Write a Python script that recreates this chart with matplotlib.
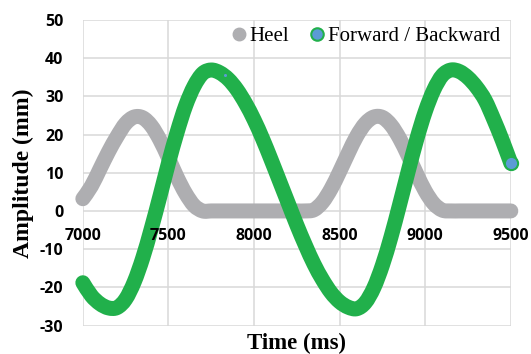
import numpy as np
import matplotlib
matplotlib.use("Agg")
import matplotlib.pyplot as plt
from matplotlib.path import Path
from matplotlib.patches import PathPatch

# Time axis (ms), sampled every 50 ms
time_ms = [7000, 7050, 7100, 7150, 7200, 7250, 7300, 7350, 7400, 7450,
           7500, 7550, 7600, 7650, 7700, 7750, 7800, 7850, 7900, 7950,
           8000, 8050, 8100, 8150, 8200, 8250, 8300, 8350, 8400, 8450,
           8500, 8550, 8600, 8650, 8700, 8750, 8800, 8850, 8900, 8950,
           9000, 9050, 9100, 9150, 9200, 9250, 9300, 9350, 9400, 9450,
           9500]

heel = [3.2, 6.5, 11.0, 15.5, 19.5, 22.9, 24.6, 24.4, 22.3, 18.6,
        13.9, 8.9, 4.6, 1.4, 0.0, 0.0, 0.0, 0.0, 0.0, 0.0,
        0.0, 0.0, 0.0, 0.0, 0.0, 0.0, 0.0, 0.3, 2.3, 5.8,
        10.3, 15.1, 19.6, 22.9, 24.6, 24.5, 22.5, 19.0, 14.5, 9.7,
        5.2, 1.9, 0.2, 0.0, 0.0, 0.0, 0.0, 0.0, 0.0, 0.0,
        0.0]

forward_backward = [-18.8, -22.2, -24.3, -25.4, -25.3, -23.1, -18.6, -12.3, -4.6, 3.8,
                    12.5, 20.5, 27.5, 32.7, 36.0, 36.9, 36.2, 34.5, 31.8, 28.2,
                    23.9, 18.9, 13.4, 7.7, 2.0, -3.7, -9.0, -13.9, -18.0, -21.4,
                    -23.8, -25.2, -25.6, -24.0, -20.1, -14.2, -6.8, 1.6, 10.3, 18.7,
                    26.0, 31.7, 35.5, 36.9, 36.5, 34.9, 32.4, 29.0, 24.0, 18.5,
                    12.5]

x_ticks = [7000, 7500, 8000, 8500, 9000, 9500]
y_ticks = [-30, -20, -10, 0, 10, 20, 30, 40, 50]

GRAY = '#AEAEB1'
GREEN = '#21B04B'
BLUE = '#5B9BD5'
GRID = '#D9D9D9'


def smooth_path(xs, ys):
    # Catmull-Rom through the points, as cubic Bezier segments
    p = np.column_stack([xs, ys]).astype(float)
    ext = np.vstack([p[0], p, p[-1]])
    verts = [p[0]]
    codes = [Path.MOVETO]
    for i in range(1, len(ext) - 2):
        p0, p1, p2, p3 = ext[i - 1], ext[i], ext[i + 1], ext[i + 2]
        verts += [p1 + (p2 - p0) / 6, p2 - (p3 - p1) / 6, p2]
        codes += [Path.CURVE4] * 3
    return Path(verts, codes)


fig = plt.figure(figsize=(5.31, 3.54), dpi=100)
ax = fig.add_axes([0.156, 0.0805, 0.806, 0.863])

for ys, col, z in [(heel, GRAY, 3), (forward_backward, GREEN, 4)]:
    patch = PathPatch(smooth_path(time_ms, ys), fill=False, edgecolor=col,
                      lw=10.8, capstyle='round', joinstyle='round',
                      clip_on=False, zorder=z)
    ax.add_patch(patch)

# last marker shows its blue fill
ax.plot(time_ms[-1], forward_backward[-1], 'o', ms=9.5, mfc=BLUE, mec=GREEN,
        mew=1.5, clip_on=False, zorder=5)
# one stray marker fill visible near the first peak
ax.plot(time_ms[17] - 20, forward_backward[17] + 1.0, 'o', ms=2.2, mfc=BLUE,
        mec='none', zorder=5)

ax.set_xlim(7000, 9500)
ax.set_ylim(-30, 50)
ax.set_xticks(x_ticks)
ax.set_yticks(y_ticks)
ax.grid(True, color=GRID, lw=1.1)
ax.set_axisbelow(True)
for s in ax.spines.values():
    s.set_visible(False)

ax.tick_params(length=0)
ax.set_xticklabels([])
ax.set_yticklabels([str(v) for v in y_ticks], fontfamily='Open Sans',
                   fontweight='bold', fontsize=11.5)
ax.tick_params(axis='y', pad=14)

for t in x_ticks:
    ax.annotate(str(t), xy=(t, 0), xytext=(0, -12.5), textcoords='offset points',
                ha='center', va='top', fontfamily='Open Sans', fontweight='bold',
                fontsize=11.5, zorder=6, annotation_clip=False)

ax.set_xlabel('Time (ms)', fontfamily='Liberation Serif', fontweight='bold',
              fontsize=16.5, labelpad=2)
ax.set_ylabel('Amplitude (mm)', fontfamily='Liberation Serif', fontweight='bold',
              fontsize=17, labelpad=4)

h1 = plt.Line2D([], [], ls='none', marker='o', ms=9, mfc=GRAY, mec=GRAY)
h2 = plt.Line2D([], [], ls='none', marker='o', ms=9, mfc=BLUE, mec=GREEN, mew=1.5)
ax.legend([h1, h2], ['Heel', 'Forward / Backward'], loc='upper right',
          bbox_to_anchor=(1.004, 1.02), ncol=2, frameon=False,
          prop={'family': 'Liberation Serif', 'size': 15},
          handlelength=0.8, handletextpad=0.1, columnspacing=0.95,
          borderaxespad=0.2)

fig.savefig('out.png', dpi=100)
